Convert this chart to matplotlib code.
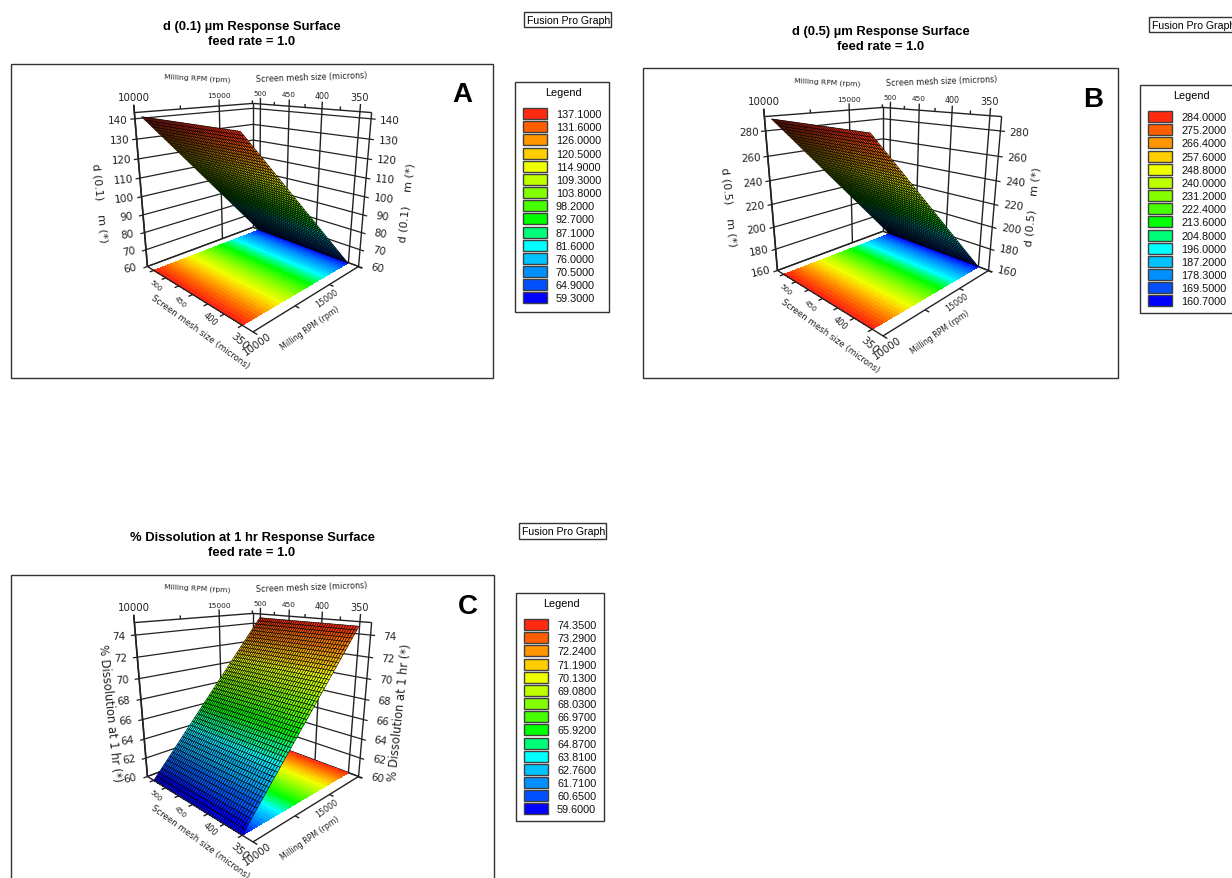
import matplotlib
matplotlib.use('Agg')
import numpy as np
import matplotlib.pyplot as plt
from matplotlib.colors import LinearSegmentedColormap
from matplotlib.patches import Rectangle
from mpl_toolkits.mplot3d import proj3d

# axes values shared by the three panels
rpm_ends = [10000, 17500]
mesh_ends = [500, 350]
rpm_lim = [10000, 17550]
mesh_lim = [336, 514]
rpm_major = [10000, 15000]
rpm_minor = [12500, 17500]
mesh_major = [500, 450, 400, 350]
mesh_minor = [475, 425, 375]

# response at the two rpm ends, floor and top of the z axis
z_ends_a = [141.5, 60.0]
z_lim_a = [60, 143]
z_ticks_a = [60, 70, 80, 90, 100, 110, 120, 130, 140]
legend_a = ['137.1000', '131.6000', '126.0000', '120.5000', '114.9000', '109.3000', '103.8000', '98.2000',
            '92.7000', '87.1000', '81.6000', '76.0000', '70.5000', '64.9000', '59.3000']

z_ends_b = [290.0, 160.7]
z_lim_b = [160, 291]
z_ticks_b = [160, 180, 200, 220, 240, 260, 280]
legend_b = ['284.0000', '275.2000', '266.4000', '257.6000', '248.8000', '240.0000', '231.2000', '222.4000',
            '213.6000', '204.8000', '196.0000', '187.2000', '178.3000', '169.5000', '160.7000']

z_ends_c = [60.0, 74.7]
z_lim_c = [60, 75.1]
z_ticks_c = [60, 62, 64, 66, 68, 70, 72, 74]
legend_c = ['74.3500', '73.2900', '72.2400', '71.1900', '70.1300', '69.0800', '68.0300', '66.9700',
            '65.9200', '64.8700', '63.8100', '62.7600', '61.7100', '60.6500', '59.6000']

legend_colors = ['#ff2a0f', '#ff5f00', '#ff9600', '#ffcd00', '#f0ff00', '#beff00', '#82ff00', '#46ff00',
                 '#00ff00', '#00ff78', '#00ffff', '#00c3ff', '#0091ff', '#0050ff', '#0000ff']

W, H = 1232, 879
cmap = LinearSegmentedColormap.from_list('fusion', legend_colors[::-1], N=36)
line_col = '#222222'

fig = plt.figure(figsize=(W / 100, H / 100), dpi=100)
bg = fig.add_axes([0, 0, 1, 1])
bg.set_xlim(0, W)
bg.set_ylim(H, 0)
bg.axis('off')


def box(x0, y0, x1, y1, lw=1.0):
    bg.add_patch(Rectangle((x0, y0), x1 - x0, y1 - y0, fc='white', ec='#333333', lw=lw, clip_on=False))


def legend(x0, y0, x1, y1, labels):
    box(x0, y0, x1, y1)
    bg.text((x0 + x1) / 2 + 1, y0 + 10, 'Legend', ha='center', va='center', fontsize=7.8, family='Liberation Sans')
    for i, lab in enumerate(labels):
        yy = y0 + 26 + i * 13.17
        bg.add_patch(Rectangle((x0 + 8, yy), 24, 11, fc=legend_colors[i], ec='#404040', lw=1.0))
        bg.text(x0 + 41, yy + 6, lab, ha='left', va='center', fontsize=7.8, family='Liberation Sans', color='#111111')


def surface(ax, z_ends, z_lim, n, lw):
    # plane through the read-off end values, on a fine render mesh
    xx = np.linspace(rpm_ends[0], rpm_ends[1], n)
    yy = np.linspace(mesh_ends[0], mesh_ends[1], n)
    X, Y = np.meshgrid(xx, yy)
    Z = np.interp(X, rpm_ends, z_ends)
    lo, hi = min(z_ends), max(z_ends)
    s = ax.plot_surface(X, Y, Z, facecolors=cmap((Z - lo) / (hi - lo)), edgecolor='black', linewidth=lw,
                        shade=False, rcount=n, ccount=n, zorder=3)
    s.set_clip_on(False)
    # colour map projected on the floor
    xf = np.linspace(rpm_ends[0], rpm_ends[1], 72)
    Xf, Yf = np.meshgrid(xf, mesh_ends)
    Zf = np.interp(Xf, rpm_ends, z_ends)
    cols = cmap((Zf - lo) / (hi - lo))
    f = ax.plot_surface(Xf, Yf, np.full_like(Xf, z_lim[0]), facecolors=cols, shade=False, rcount=2, ccount=72,
                        linewidth=0.5, edgecolor='none', antialiased=False, zorder=2)
    f.set_clip_on(False)


def line3(ax, xs, ys, zs, lw=1.0, zo=1):
    ax.plot(xs, ys, zs, color=line_col, lw=lw, zorder=zo, solid_capstyle='butt', clip_on=False)


def panel(cx, cy, z_ends, z_lim, z_ticks, left_label, right_label, ldx=-153, rdx=154, n=48, lw=0.42, zfs=8.0):
    size = 267
    rect = [(cx - 0.5135 * size) / W, (H - (cy + 0.5135 * size)) / H, size / W, size / H]
    ax = fig.add_axes(rect, projection='3d', computed_zorder=False)
    ax.set_facecolor('none')
    ax.set_box_aspect((1, 1, 1.015), zoom=1)
    ax.set_proj_type('persp', focal_length=0.279)
    ax.view_init(elev=17, azim=-135)
    ax.set_xlim(rpm_lim[0], rpm_lim[1], view_margin=0)
    ax.set_ylim(mesh_lim[0], mesh_lim[1], view_margin=0)
    ax.set_zlim(z_lim[0], z_lim[1], view_margin=0)
    ax.set_axis_off()

    x0, x1 = rpm_lim
    y0, y1 = mesh_lim
    z0, z1 = z_lim
    dz = (z1 - z0) * 0.045
    dx = (x1 - x0) * 0.03
    dy = (y1 - y0) * 0.03

    # walls
    for z in z_ticks:
        line3(ax, [x0 - dx, x0, x1, x1], [y1, y1, y1, y0 - dy], [z, z, z, z], lw=0.9)
    line3(ax, [x0, x1, x1], [y1, y1, y0], [z1, z1, z1])
    for x in rpm_major + rpm_minor:
        if x in rpm_major:
            line3(ax, [x, x], [y1, y1], [z0, z1 + dz])
        else:
            line3(ax, [x, x], [y1, y1], [z1, z1 + dz * 0.5])
    for y in mesh_major + mesh_minor:
        if y in mesh_major:
            line3(ax, [x1, x1], [y, y], [z0, z1 + dz])
        else:
            line3(ax, [x1, x1], [y, y], [z1, z1 + dz * 0.5])
    line3(ax, [x0, x0], [y1, y1], [z0, z1 + dz], lw=1.2)
    line3(ax, [x1, x1], [y0, y0], [z0, z1])
    line3(ax, [x1, x1], [y1, y1], [z0, z1])
    line3(ax, [x0, x1, x1], [y1, y1, y0], [z0, z0, z0])

    surface(ax, z_ends, z_lim, n, lw)

    # front floor edges and their ticks
    line3(ax, [x0, x0, x1], [y1, y0, y0], [z0, z0, z0], zo=4)
    for y in mesh_major + mesh_minor:
        line3(ax, [x0, x0 - dx], [y, y], [z0, z0], zo=4)
    for x in rpm_major + rpm_minor:
        line3(ax, [x, x], [y0, y0 - dy], [z0, z0], zo=4)

    M = ax.get_proj()

    def tick(x, y, z, label, off, fs, rot=0):
        px, py, _ = proj3d.proj_transform(x, y, z, M)
        ax.annotate(label, (px, py), xytext=(off[0] * 0.72, off[1] * 0.72), textcoords='offset points',
                    ha='center', va='center', fontsize=fs, rotation=rot, color='#222222',
                    annotation_clip=False, rotation_mode='anchor')

    for x, fs, up in zip(rpm_major, (7.4, 5.4), (16, 11)):
        tick(x, y1, z1, str(x), (0, up), fs)
    for y, fs, up in zip(mesh_major, (5.0, 5.3, 5.7, 7.0), (11, 12, 13, 15)):
        tick(x1, y, z1, str(y), (0, up), fs)
    for z in z_ticks:
        frac = (z - z0) / (z1 - z0)
        rot = 12 * (1 - frac)
        tick(x0, y1, z, str(z), (-17, -1), 7.5, rot)
        tick(x1, y0, z, str(z), (19, -1), 7.5, -rot)
    for y, fs, off in zip(mesh_major, (5.0, 5.4, 6.0, 7.6), ((2, -15), (2, -15), (2, -15), (-3, -15))):
        tick(x0, y, z0, str(y), off, fs, -42)
    for x, fs, off in zip(rpm_major, (7.4, 5.8), ((4, -11), (-2, -13))):
        tick(x, y0, z0, str(x), off, fs, 35)

    # axis titles, placed relative to the panel centre
    for text, ddx, ddy, rot, fs in [('Milling RPM (rpm)', -56, -117, -3, 5.4),
                                    ('Screen mesh size (microns)', 59, -117, 2, 5.8),
                                    ('Screen mesh size (microns)', -53, 137, -36, 6.2),
                                    ('Milling RPM (rpm)', 57, 133, 35, 5.7),
                                    (left_label, ldx, 8, -84, zfs),
                                    (right_label, rdx, 8, 84, zfs)]:
        bg.text(cx + ddx, cy + ddy, text, ha='center', va='center', rotation=rot, fontsize=fs,
                color='#222222', rotation_mode='anchor', clip_on=False)


def title(cx, y, line1):
    bg.text(cx, y, line1, ha='center', va='center', fontsize=9.4, fontweight='bold', family='Liberation Sans')
    bg.text(cx, y + 15, 'feed rate = 1.0', ha='center', va='center', fontsize=9.4, fontweight='bold',
            family='Liberation Sans')


def fusion(x0, y0, x1, y1):
    box(x0, y0, x1, y1)
    bg.text(x0 + 3, (y0 + y1) / 2 + 0.5, 'Fusion Pro Graph', ha='left', va='center', fontsize=7.6,
            family='Liberation Sans', clip_on=True)


def letter(x, y, s):
    fig.text(x / W, 1 - y / H, s, ha='center', va='center', fontsize=20, fontweight='bold',
             family='Liberation Sans', zorder=10)


# panel frames
box(11, 65, 493, 379)
box(643, 69, 1118, 379)
box(11, 576, 494, 885)

title(252, 27, 'd (0.1) \u00b5m Response Surface')
title(881, 32, 'd (0.5) \u00b5m Response Surface')
title(252, 538, '% Dissolution at 1 hr Response Surface')

fusion(524, 13, 611, 28)
fusion(1149, 18, 1238, 33)
fusion(519, 524, 606, 540)

legend(515, 83, 609, 313, legend_a)
legend(1140, 86, 1240, 314, legend_b)
legend(516, 594, 604, 822, legend_c)

panel(253, 195, z_ends_a, z_lim_a, z_ticks_a, 'd (0.1)    m (*)', 'd (0.1)    m (*)')
panel(883, 199, z_ends_b, z_lim_b, z_ticks_b, 'd (0.5)    m (*)', 'd (0.5)    m (*)', ldx=-154, rdx=150)
panel(253, 705, z_ends_c, z_lim_c, z_ticks_c, '% Dissolution at 1 hr (*)', '% Dissolution at 1 hr (*)',
      ldx=-143, rdx=147, n=46, lw=0.4, zfs=8.3)

letter(462, 95, 'A')
letter(1093, 100, 'B')
letter(468, 607, 'C')

plt.savefig('out.png', dpi=100)
